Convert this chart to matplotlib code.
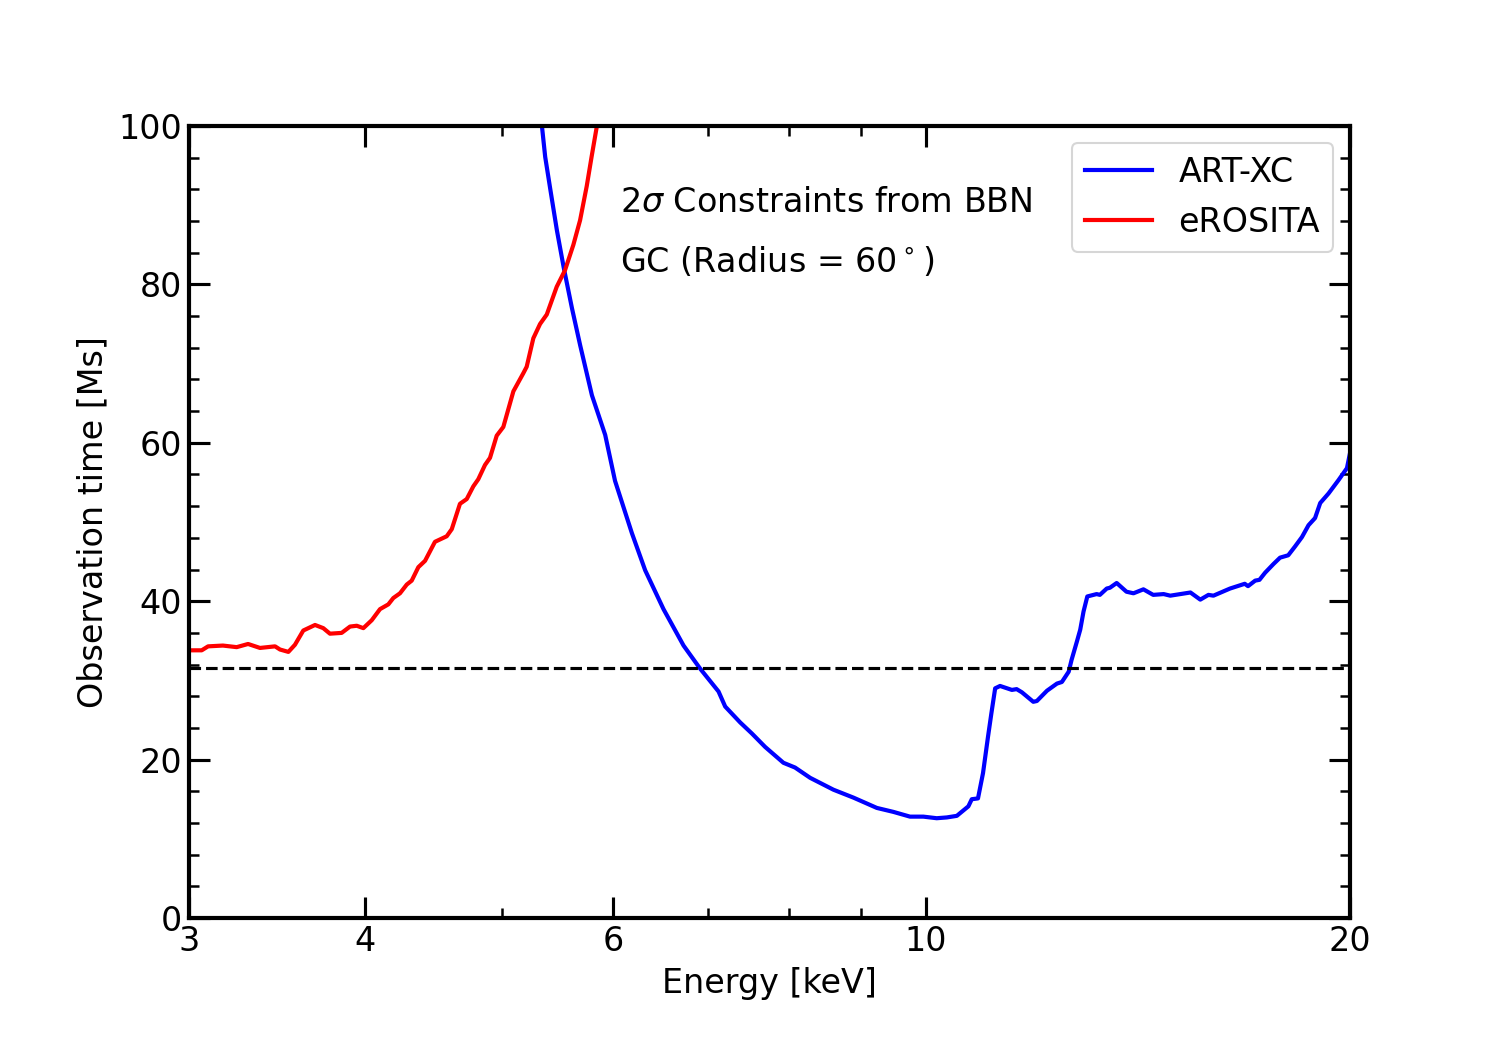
import matplotlib
matplotlib.use('Agg')
import matplotlib.pyplot as plt
from matplotlib.ticker import FixedLocator, ScalarFormatter, MultipleLocator, NullFormatter
import numpy as np

# eROSITA curve (energy in keV, observation time in Ms)
erosita_e = [3.005, 3.063, 3.095, 3.171, 3.243, 3.304, 3.369, 3.453, 3.481, 3.529,
             3.567, 3.616, 3.686, 3.736, 3.777, 3.850, 3.903, 3.946, 3.989, 4.044,
             4.099, 4.155, 4.189, 4.235, 4.282, 4.317, 4.364, 4.412, 4.484, 4.571,
             4.609, 4.671, 4.723, 4.774, 4.813, 4.866, 4.906, 4.960, 5.014, 5.097,
             5.181, 5.209, 5.266, 5.324, 5.383, 5.471, 5.546, 5.622, 5.684, 5.746,
             5.793, 5.841, 5.860]
erosita_t = [33.8, 33.8, 34.3, 34.4, 34.2, 34.6, 34.1, 34.3, 33.9, 33.6,
             34.5, 36.3, 37.0, 36.6, 35.9, 36.0, 36.8, 36.9, 36.6, 37.6,
             39.0, 39.6, 40.4, 41.0, 42.1, 42.6, 44.3, 45.1, 47.5, 48.2,
             49.1, 52.3, 52.9, 54.5, 55.4, 57.2, 58.1, 60.9, 62.0, 66.5,
             68.8, 69.6, 73.2, 75.0, 76.2, 79.7, 81.8, 85.0, 88.1, 92.4,
             96.2, 99.9, 102.0]

# ART-XC curve
artxc_e = [5.32, 5.339, 5.369, 5.413, 5.473, 5.533, 5.609, 5.685, 5.795, 5.922,
           6.018, 6.186, 6.322, 6.514, 6.731, 6.915, 7.127, 7.205, 7.383, 7.526,
           7.691, 7.924, 8.076, 8.278, 8.599, 8.885, 9.231, 9.484, 9.745, 9.960,
           10.18, 10.35, 10.52, 10.72, 10.78, 10.89, 10.98, 11.07, 11.13, 11.20,
           11.29, 11.51, 11.60, 11.70, 11.92, 11.99, 12.19, 12.39, 12.49, 12.63,
           12.69, 12.80, 12.87, 12.94, 13.02, 13.22, 13.29, 13.44, 13.51, 13.66,
           13.88, 14.04, 14.27, 14.50, 14.75, 14.91, 15.41, 15.66, 15.87, 16.00,
           16.44, 16.84, 16.93, 17.13, 17.25, 17.41, 17.65, 17.84, 18.08, 18.28,
           18.49, 18.69, 18.89, 19.05, 19.31, 19.63, 19.90, 20.0]
artxc_t = [102.5, 100.2, 96.1, 92.1, 86.8, 82.2, 77.0, 72.3, 66.0, 61.0,
           55.2, 48.6, 43.9, 39.0, 34.4, 31.5, 28.6, 26.7, 24.7, 23.3,
           21.6, 19.6, 19.0, 17.7, 16.2, 15.2, 13.9, 13.4, 12.8, 12.8,
           12.6, 12.7, 12.9, 14.1, 15.0, 15.1, 18.3, 22.9, 25.8, 29.0,
           29.3, 28.8, 28.9, 28.5, 27.3, 27.4, 28.7, 29.6, 29.8, 31.1,
           32.6, 34.9, 36.4, 38.7, 40.6, 40.9, 40.8, 41.6, 41.7, 42.3,
           41.2, 41.0, 41.5, 40.8, 40.9, 40.7, 41.1, 40.2, 40.8, 40.7,
           41.6, 42.2, 41.9, 42.6, 42.7, 43.6, 44.7, 45.5, 45.8, 46.9,
           48.1, 49.6, 50.5, 52.4, 53.6, 55.3, 56.8, 58.7]

threshold = 31.6
major_e = [3, 4, 6, 10, 20]

plt.rcParams['font.size'] = 16

fig = plt.figure(figsize=(10, 7), dpi=150)
ax = fig.add_axes([0.126, 0.1257, 0.774, 0.7543])

ax.plot(artxc_e, artxc_t, color='blue', lw=2.0, label='ART-XC')
ax.plot(erosita_e, erosita_t, color='red', lw=2.0, label='eROSITA')
ax.axhline(threshold, color='black', ls='--', lw=1.5)

ax.set_xscale('log')
ax.set_xlim(3, 20)
ax.set_ylim(0, 100)
ax.xaxis.set_major_locator(FixedLocator(major_e))
ax.xaxis.set_major_formatter(ScalarFormatter())
ax.xaxis.set_minor_formatter(NullFormatter())
ax.yaxis.set_major_locator(MultipleLocator(20))
ax.yaxis.set_minor_locator(MultipleLocator(4))

ax.tick_params(which='both', direction='in', top=True, right=True, labelsize=16)
ax.tick_params(which='major', length=10, width=1.5)
ax.tick_params(which='minor', length=5, width=1.2)
for sp in ax.spines.values():
    sp.set_linewidth(2.0)

ax.set_xlabel('Energy [keV]', fontsize=16)
ax.set_ylabel('Observation time [Ms]', fontsize=16)

ax.text(6.07, 90.4, r'2$\sigma$ Constraints from BBN', ha='left', va='center', fontsize=16)
ax.text(6.07, 82.8, r'GC (Radius = 60$^\circ$)', ha='left', va='center', fontsize=16)

ax.legend(loc='upper right', fontsize=16)

fig.savefig('out.png', dpi=150, facecolor='white')
